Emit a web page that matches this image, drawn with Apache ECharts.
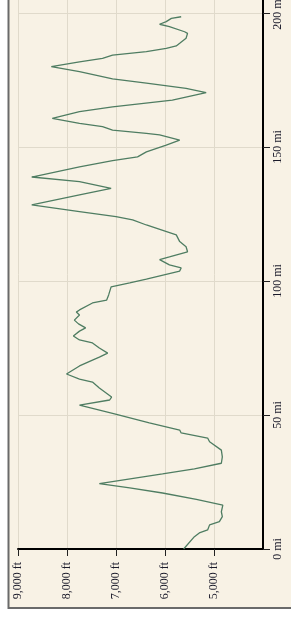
<!DOCTYPE html>
<html>
<head>
<meta charset="utf-8">
<style>
html,body{margin:0;padding:0;background:#ffffff;}
#chart{width:291px;height:617px;}
</style>
<script src="https://cdn.jsdelivr.net/npm/echarts@6/dist/echarts.min.js"></script>
</head>
<body>
<div id="chart"></div>
<script>
// Elevation profile (distance in miles, elevation in feet)
const distanceMi = [0, 4.6, 6.0, 7.1, 9.0, 10.2, 12.1, 13.9, 16.4, 18.5, 20.9, 22.8, 24.4, 28.0, 29.9, 32.0, 34.4, 36.9, 40.0, 41.4, 43.3, 44.4, 47.1, 50.4, 53.7, 55.6, 56.7, 60.1, 62.3, 63.4, 65.3, 68.3, 70.5, 71.6, 73.1, 75.0, 76.9, 78.0, 79.5, 81.3, 82.5, 84.0, 85.4, 87.3, 88.4, 89.2, 91.8, 92.9, 94.8, 97.8, 99.3, 100.7, 103.7, 104.9, 106.0, 108.0, 109.0, 110.9, 112.8, 114.7, 117.2, 120.9, 122.8, 124.0, 125.9, 128.4, 132.1, 134.6, 137.1, 138.8, 142.6, 144.9, 146.3, 148.2, 150.7, 152.6, 154.5, 155.1, 156.3, 157.6, 158.8, 160.7, 163.2, 165.0, 167.5, 170.3, 171.9, 173.8, 175.4, 178.1, 180.0, 181.8, 183.1, 184.3, 185.6, 186.8, 187.7, 188.7, 190.6, 192.4, 193.0, 194.9, 195.8, 196.8, 198.0, 198.6];
const elevationFt = [5620, 5400, 5300, 5130, 5090, 4890, 4830, 4850, 4820, 5360, 6050, 6720, 7340, 6050, 5400, 4850, 4830, 4850, 5090, 5130, 5670, 5700, 6320, 7030, 7745, 7130, 7090, 7340, 7480, 7745, 8010, 7745, 7480, 7340, 7170, 7340, 7480, 7745, 7870, 7745, 7620, 7765, 7850, 7745, 7810, 7745, 7480, 7190, 7150, 7100, 6720, 6380, 5700, 5670, 5910, 6110, 5910, 5540, 5570, 5700, 5770, 6380, 6660, 7000, 7745, 8720, 7745, 7100, 7745, 8720, 7745, 7070, 6560, 6380, 5975, 5700, 6110, 6380, 7070, 7275, 7745, 8300, 7745, 7070, 5850, 5160, 5570, 6380, 7070, 7745, 8320, 7745, 7275, 7070, 6380, 5975, 5770, 5700, 5570, 5540, 5600, 5910, 6110, 5975, 5870, 5670];
const elevTicks = [9000, 8000, 7000, 6000, 5000];
const distTicks = [0, 50, 100, 150, 200];

const profile = distanceMi.map((d, i) => [elevationFt[i], d]);

const chart = echarts.init(document.getElementById('chart'), null, {renderer: 'canvas'});
const font = 'Liberation Serif';
chart.setOption({
  backgroundColor: '#ffffff',
  animation: false,
  graphic: [{
    type: 'rect',
    z: -100,
    silent: true,
    shape: {x: 8.5, y: -10, width: 300, height: 618},
    style: {fill: '#f8f2e5', stroke: '#6a6a6a', lineWidth: 2}
  }],
  grid: {left: 18, right: 28, top: 0, bottom: 68, containLabel: false, outerBoundsMode: 'none'},
  xAxis: {
    type: 'value',
    min: 4000, max: 9000, interval: 1000,
    inverse: true,
    position: 'bottom',
    axisLine: {show: true, onZero: false, lineStyle: {color: '#000', width: 2}},
    axisTick: {show: true, length: 7, customValues: elevTicks, lineStyle: {color: '#222', width: 1}},
    axisLabel: {
      show: true, rotate: 90, margin: 13, customValues: elevTicks,
      fontFamily: font, fontSize: 12, color: '#1a1a2a',
      formatter: v => v.toLocaleString('en-US') + ' ft'
    },
    splitLine: {show: true, lineStyle: {color: '#e0dacb', width: 1}}
  },
  yAxis: {
    type: 'value',
    min: 0, max: 204.85, interval: 50,
    position: 'right',
    axisLine: {show: true, onZero: false, lineStyle: {color: '#000', width: 2}},
    axisTick: {show: true, length: 7, customValues: distTicks, lineStyle: {color: '#222', width: 1}},
    axisLabel: {
      show: true, rotate: 90, margin: 9, customValues: distTicks,
      alignMinLabel: 'center', alignMaxLabel: 'center',
      fontFamily: font, fontSize: 12, color: '#1a1a2a',
      formatter: v => v + ' mi'
    },
    splitLine: {show: true, lineStyle: {color: '#e0dacb', width: 1}}
  },
  series: [{
    type: 'line',
    data: profile,
    symbol: 'none',
    smooth: false,
    lineStyle: {color: '#4f7d62', width: 1.3},
    z: 5
  }]
});
</script>
</body>
</html>
